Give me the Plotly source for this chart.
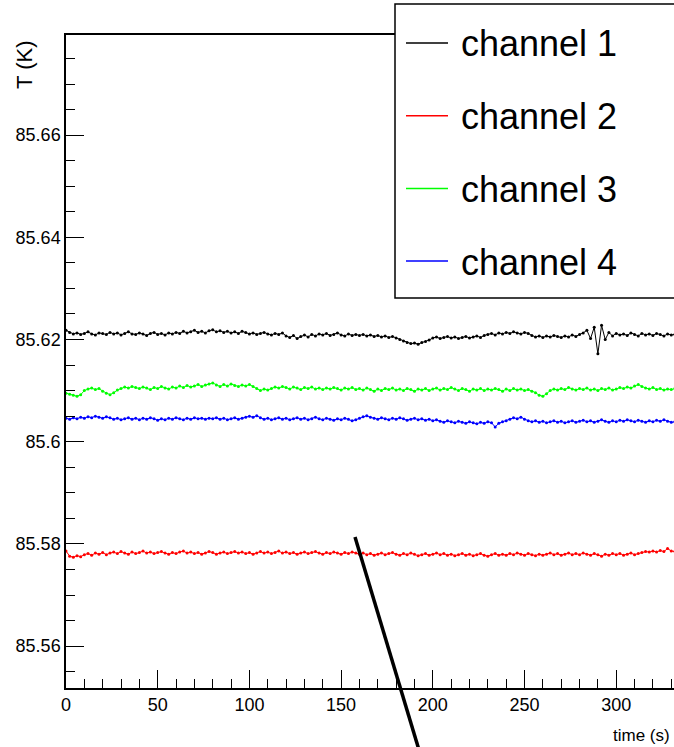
import plotly.graph_objects as go

time_s = list(range(0, 333, 2))

channel_names = ["channel 1", "channel 2", "channel 3", "channel 4"]
channel_colors = ["#000000", "#ff0000", "#00ff00", "#0000ff"]

y_tick_vals = [85.56, 85.58, 85.60, 85.62, 85.64, 85.66]
y_tick_text = ["85.56", "85.58", "85.6", "85.62", "85.64", "85.66"]

ch1 = [85.6218, 85.6214, 85.6211, 85.6213, 85.6210, 85.6212, 85.6215, 85.6211, 85.6209, 85.6213,
       85.6212, 85.6210, 85.6214, 85.6211, 85.6213, 85.6209, 85.6212, 85.6215, 85.6211, 85.6210,
       85.6213, 85.6211, 85.6208, 85.6212, 85.6214, 85.6210, 85.6212, 85.6209, 85.6213, 85.6211,
       85.6214, 85.6212, 85.6216, 85.6213, 85.6215, 85.6218, 85.6214, 85.6216, 85.6213, 85.6217,
       85.6219, 85.6215, 85.6217, 85.6214, 85.6216, 85.6213, 85.6215, 85.6212, 85.6216, 85.6214,
       85.6211, 85.6213, 85.6210, 85.6212, 85.6214, 85.6211, 85.6209, 85.6212, 85.6210, 85.6213,
       85.6207, 85.6204, 85.6208, 85.6202, 85.6206, 85.6209, 85.6205, 85.6210, 85.6207, 85.6211,
       85.6209, 85.6212, 85.6208, 85.6210, 85.6213, 85.6209, 85.6207, 85.6211, 85.6208, 85.6210,
       85.6208, 85.6210, 85.6207, 85.6209, 85.6206, 85.6208, 85.6205, 85.6207, 85.6204, 85.6206,
       85.6203, 85.6200, 85.6197, 85.6194, 85.6192, 85.6193, 85.6191, 85.6194, 85.6196, 85.6199,
       85.6203, 85.6205, 85.6202, 85.6204, 85.6206, 85.6203, 85.6205, 85.6202, 85.6204, 85.6206,
       85.6203, 85.6205, 85.6207, 85.6204, 85.6208, 85.6210, 85.6212, 85.6209, 85.6213, 85.6211,
       85.6214, 85.6212, 85.6215, 85.6213, 85.6211, 85.6214, 85.6212, 85.6208, 85.6205, 85.6207,
       85.6204, 85.6207, 85.6205, 85.6208, 85.6206, 85.6204, 85.6207, 85.6205, 85.6209, 85.6206,
       85.6210, 85.6213, 85.6218, 85.6202, 85.6224, 85.6172, 85.6228, 85.6200, 85.6214, 85.6207,
       85.6212, 85.6209, 85.6211, 85.6208, 85.6213, 85.6210, 85.6207, 85.6212, 85.6209, 85.6211,
       85.6208, 85.6212, 85.6210, 85.6207, 85.6211, 85.6209, 85.6210]

ch2 = [85.5786, 85.5776, 85.5774, 85.5777, 85.5775, 85.5779, 85.5781, 85.5778, 85.5782, 85.5780,
       85.5783, 85.5779, 85.5782, 85.5784, 85.5781, 85.5785, 85.5782, 85.5780, 85.5784, 85.5781,
       85.5783, 85.5786, 85.5782, 85.5784, 85.5781, 85.5783, 85.5785, 85.5782, 85.5780, 85.5783,
       85.5781, 85.5784, 85.5786, 85.5782, 85.5784, 85.5781, 85.5783, 85.5780, 85.5782, 85.5785,
       85.5783, 85.5780, 85.5782, 85.5784, 85.5781, 85.5783, 85.5785, 85.5782, 85.5784, 85.5781,
       85.5783, 85.5780, 85.5782, 85.5785, 85.5782, 85.5784, 85.5781, 85.5783, 85.5786, 85.5782,
       85.5784, 85.5781, 85.5783, 85.5780, 85.5782, 85.5784, 85.5781, 85.5783, 85.5785, 85.5782,
       85.5780, 85.5783, 85.5781, 85.5784, 85.5782, 85.5780, 85.5783, 85.5781, 85.5784, 85.5782,
       85.5780, 85.5782, 85.5779, 85.5781, 85.5778, 85.5780, 85.5782, 85.5779, 85.5781, 85.5783,
       85.5780, 85.5778, 85.5781, 85.5779, 85.5782, 85.5780, 85.5777, 85.5779, 85.5781, 85.5778,
       85.5780, 85.5782, 85.5779, 85.5781, 85.5778, 85.5780, 85.5777, 85.5779, 85.5781, 85.5778,
       85.5780, 85.5777, 85.5779, 85.5781, 85.5778, 85.5776, 85.5779, 85.5781, 85.5778, 85.5780,
       85.5778, 85.5781, 85.5779, 85.5782, 85.5780, 85.5778, 85.5781, 85.5779, 85.5777, 85.5780,
       85.5778, 85.5780, 85.5782, 85.5779, 85.5781, 85.5778, 85.5780, 85.5782, 85.5779, 85.5781,
       85.5779, 85.5782, 85.5780, 85.5778, 85.5781, 85.5779, 85.5776, 85.5780, 85.5778, 85.5781,
       85.5779, 85.5781, 85.5778, 85.5780, 85.5782, 85.5779, 85.5781, 85.5783, 85.5785, 85.5784,
       85.5786, 85.5784, 85.5787, 85.5785, 85.5791, 85.5786, 85.5785]

ch3 = [85.6095, 85.6093, 85.6091, 85.6089, 85.6092, 85.6100, 85.6103, 85.6105, 85.6102, 85.6104,
       85.6099, 85.6095, 85.6092, 85.6096, 85.6101, 85.6104, 85.6107, 85.6105, 85.6108, 85.6106,
       85.6104, 85.6107, 85.6105, 85.6102, 85.6106, 85.6104, 85.6108, 85.6105, 85.6103, 85.6107,
       85.6105, 85.6109, 85.6106, 85.6110, 85.6107, 85.6109, 85.6112, 85.6108, 85.6111, 85.6113,
       85.6115, 85.6111, 85.6108, 85.6112, 85.6109, 85.6113, 85.6110, 85.6108, 85.6111, 85.6109,
       85.6112, 85.6108, 85.6104, 85.6100, 85.6103, 85.6101, 85.6104, 85.6107, 85.6105, 85.6108,
       85.6106, 85.6103, 85.6107, 85.6105, 85.6102, 85.6106, 85.6104, 85.6107, 85.6103, 85.6105,
       85.6102, 85.6105, 85.6103, 85.6106, 85.6104, 85.6101, 85.6105, 85.6103, 85.6106, 85.6102,
       85.6104, 85.6101, 85.6105, 85.6102, 85.6099, 85.6103, 85.6100, 85.6104, 85.6102, 85.6105,
       85.6101, 85.6103, 85.6100, 85.6104, 85.6102, 85.6099, 85.6103, 85.6101, 85.6104, 85.6100,
       85.6103, 85.6105, 85.6101, 85.6104, 85.6102, 85.6106, 85.6103, 85.6100, 85.6104, 85.6102,
       85.6099, 85.6103, 85.6101, 85.6104, 85.6100, 85.6103, 85.6101, 85.6104, 85.6102, 85.6099,
       85.6103, 85.6100, 85.6104, 85.6101, 85.6103, 85.6100, 85.6102, 85.6099, 85.6096, 85.6091,
       85.6089, 85.6094, 85.6100, 85.6103, 85.6101, 85.6104, 85.6102, 85.6106, 85.6103, 85.6101,
       85.6104, 85.6102, 85.6105, 85.6101, 85.6103, 85.6100, 85.6104, 85.6102, 85.6105, 85.6101,
       85.6103, 85.6106, 85.6104, 85.6107, 85.6105, 85.6109, 85.6112, 85.6108, 85.6105, 85.6103,
       85.6106, 85.6102, 85.6104, 85.6101, 85.6103, 85.6102, 85.6104]

ch4 = [85.6046, 85.6044, 85.6047, 85.6045, 85.6048, 85.6046, 85.6049, 85.6047, 85.6050, 85.6048,
       85.6046, 85.6049, 85.6047, 85.6044, 85.6046, 85.6043, 85.6045, 85.6047, 85.6044, 85.6046,
       85.6043, 85.6046, 85.6044, 85.6047, 85.6045, 85.6042, 85.6045, 85.6043, 85.6046, 85.6044,
       85.6047, 85.6045, 85.6043, 85.6046, 85.6044, 85.6047, 85.6045, 85.6046, 85.6044, 85.6046,
       85.6045, 85.6047, 85.6044, 85.6046, 85.6043, 85.6045, 85.6047, 85.6044, 85.6046, 85.6048,
       85.6050, 85.6048, 85.6051, 85.6047, 85.6044, 85.6046, 85.6043, 85.6045, 85.6047, 85.6044,
       85.6046, 85.6043, 85.6045, 85.6047, 85.6044, 85.6046, 85.6043, 85.6045, 85.6048, 85.6045,
       85.6043, 85.6046, 85.6044, 85.6042, 85.6045, 85.6043, 85.6046, 85.6044, 85.6041, 85.6043,
       85.6046, 85.6049, 85.6051, 85.6048, 85.6046, 85.6044, 85.6047, 85.6045, 85.6043, 85.6046,
       85.6044, 85.6047, 85.6045, 85.6042, 85.6044, 85.6046, 85.6043, 85.6045, 85.6042, 85.6044,
       85.6041, 85.6043, 85.6040, 85.6038, 85.6041, 85.6039, 85.6037, 85.6040, 85.6038, 85.6036,
       85.6039, 85.6037, 85.6035, 85.6038, 85.6036, 85.6039, 85.6037, 85.6029, 85.6036, 85.6039,
       85.6041, 85.6044, 85.6047, 85.6045, 85.6048, 85.6044, 85.6041, 85.6039, 85.6041, 85.6038,
       85.6040, 85.6037, 85.6039, 85.6041, 85.6038, 85.6040, 85.6037, 85.6039, 85.6041, 85.6038,
       85.6040, 85.6042, 85.6039, 85.6041, 85.6038, 85.6040, 85.6043, 85.6040, 85.6038, 85.6041,
       85.6039, 85.6042, 85.6040, 85.6043, 85.6041, 85.6039, 85.6042, 85.6040, 85.6038, 85.6041,
       85.6039, 85.6042, 85.6040, 85.6043, 85.6040, 85.6038, 85.6039]

series = [ch1, ch2, ch3, ch4]

tick_font = "Liberation Sans, Arial, Helvetica, sans-serif"
text_font = "Liberation Sans, Arial, Helvetica, sans-serif"

fig = go.Figure()
for name, color, vals in zip(channel_names, channel_colors, series):
    fig.add_trace(go.Scatter(
        x=time_s, y=vals, name=name, mode="lines+markers",
        line=dict(color=color, width=1),
        marker=dict(color=color, size=3),
        showlegend=False,
    ))

L = 66
T = 35
B = 59
W = 674
H = 747
pw = W - L
ph = H - T - B


def px_x(p):
    return (p - L) / pw


def px_y(p):
    return (H - B - p) / ph


# Legend drawn as a box that runs off the right edge, like the reference
shapes = [
    dict(type="rect", xref="paper", yref="paper",
         x0=px_x(395), x1=px_x(760), y0=px_y(298), y1=px_y(4),
         line=dict(color="black", width=1.5), fillcolor="white", layer="above"),
    dict(type="line", xref="paper", yref="paper",
         x0=px_x(355), y0=px_y(537), x1=px_x(419), y1=px_y(750),
         line=dict(color="black", width=3.5), layer="above"),
]
annotations = []
for i, (name, color) in enumerate(zip(channel_names, channel_colors)):
    yy = 43 + i * 72.7
    shapes.append(dict(type="line", xref="paper", yref="paper",
                       x0=px_x(406), x1=px_x(448), y0=px_y(yy), y1=px_y(yy),
                       line=dict(color=color, width=1.5), layer="above"))
    annotations.append(dict(xref="paper", yref="paper", x=px_x(459), y=px_y(yy + 1),
                            text=name, showarrow=False, xanchor="left", yanchor="middle",
                            font=dict(family=text_font, size=36, color="black")))

annotations.append(dict(xref="paper", yref="paper", x=px_x(24), y=px_y(65),
                        text="T (K)", showarrow=False, textangle=-90,
                        xanchor="center", yanchor="middle",
                        font=dict(family=text_font, size=22, color="black")))
annotations.append(dict(xref="paper", yref="paper", x=px_x(672), y=px_y(735),
                        text="time (s)", showarrow=False,
                        xanchor="right", yanchor="middle",
                        font=dict(family=tick_font, size=17, color="black")))

fig.update_layout(
    width=W, height=H,
    margin=dict(l=L, r=0, t=T, b=B, autoexpand=False),
    paper_bgcolor="white", plot_bgcolor="white",
    shapes=shapes, annotations=annotations,
    showlegend=False,
)
fig.update_xaxes(
    range=[0, 331.5], showgrid=False, zeroline=False, automargin=False,
    showline=True, linecolor="black", linewidth=1.5, mirror=True,
    ticks="inside", ticklen=18, tickwidth=1.2, tickcolor="black",
    tick0=0, dtick=50,
    minor=dict(ticks="inside", ticklen=9, dtick=10, tickwidth=1.2, tickcolor="black"),
    tickfont=dict(family=tick_font, size=18, color="black"),
)
fig.update_yaxes(
    range=[85.5518, 85.6796], showgrid=False, zeroline=False, automargin=False,
    showline=True, linecolor="black", linewidth=1.5,
    ticks="inside", ticklen=18, tickwidth=1.2, tickcolor="black",
    tickmode="array", tickvals=y_tick_vals, ticktext=y_tick_text,
    minor=dict(ticks="inside", ticklen=9, dtick=0.005, tick0=85.56,
               tickwidth=1.2, tickcolor="black"),
    tickfont=dict(family=tick_font, size=18, color="black"),
    ticklabelstandoff=0,
)

fig.write_html("out.html")
